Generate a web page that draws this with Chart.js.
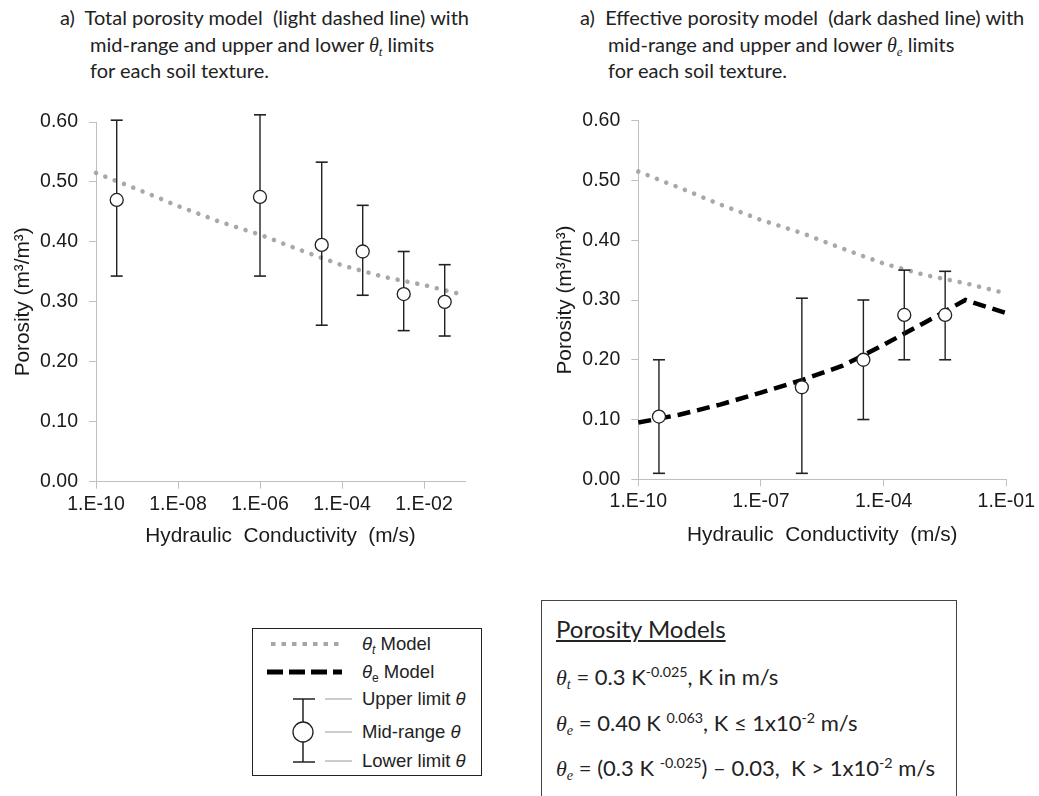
<!DOCTYPE html>
<html>
<head>
<meta charset="utf-8">
<script src="https://cdn.jsdelivr.net/npm/chart.js@4.4.1/dist/chart.umd.min.js"></script>
<style>
  html, body { margin:0; padding:0; background:#fff; width:1039px; height:796px; overflow:hidden; }
  .abs { position:absolute; }
  .ttl { font-family:'Lato', 'Open Sans', sans-serif; font-size:20px; color:#222; line-height:26.5px; white-space:pre; }
  .th { font-family:'Liberation Serif', 'DejaVu Serif', serif; font-style:italic; }
  .ttl sub, .eq sub { font-size:0.65em; vertical-align:-0.3em; line-height:0; }
  .eq sup { font-size:0.65em; vertical-align:0.55em; line-height:0; }
  .lg { font-family:'Liberation Sans', Arial, sans-serif; font-size:18.5px; color:#222; line-height:20px; white-space:pre; }
  .lg sub { font-size:0.65em; vertical-align:-0.3em; line-height:0; }
  .eq { font-family:'Lato', 'Open Sans', sans-serif; font-size:22px; color:#222; white-space:pre; line-height:24px; }
</style>
</head>
<body>
<div class="abs ttl" style="left:60px; top:4px;">a)  Total porosity model  (light dashed line) with</div>
<div class="abs ttl" style="left:90px; top:30.5px;">mid-range and upper and lower <span class="th">θ<sub>t</sub></span> limits</div>
<div class="abs ttl" style="left:90px; top:57px;">for each soil texture.</div>

<div class="abs ttl" style="left:580px; top:4px;">a)  Effective porosity model  (dark dashed line) with</div>
<div class="abs ttl" style="left:608px; top:30.5px;">mid-range and upper and lower <span class="th">θ<sub>e</sub></span> limits</div>
<div class="abs ttl" style="left:608px; top:57px;">for each soil texture.</div>

<div class="abs" style="left:0px; top:90px; width:520px; height:480px;"><canvas id="c1" width="520" height="480"></canvas></div>
<div class="abs" style="left:520px; top:90px; width:519px; height:480px;"><canvas id="c2" width="519" height="480"></canvas></div>

<!-- legend -->
<div class="abs" style="left:252px; top:628px; width:230px; height:148px; border:1px solid #222; box-sizing:border-box;">
  <svg class="abs" style="left:0; top:0;" width="230" height="148">
    <line x1="18" y1="15" x2="90" y2="15" stroke="#a6a6a6" stroke-width="4" stroke-dasharray="4.5 6"/>
    <line x1="14" y1="43" x2="89" y2="43" stroke="#000" stroke-width="5" stroke-dasharray="16 6"/>
    <line x1="50" y1="70" x2="50" y2="133" stroke="#222" stroke-width="1.5"/>
    <line x1="40" y1="70" x2="62" y2="70" stroke="#222" stroke-width="1.5"/>
    <line x1="40" y1="133" x2="62" y2="133" stroke="#222" stroke-width="1.5"/>
    <circle cx="50" cy="103" r="10" fill="#fff" stroke="#222" stroke-width="1.3"/>
    <line x1="72" y1="70" x2="99" y2="70" stroke="#999" stroke-width="1"/>
    <line x1="72" y1="103" x2="99" y2="103" stroke="#999" stroke-width="1"/>
    <line x1="72" y1="132" x2="99" y2="132" stroke="#999" stroke-width="1"/>
  </svg>
  <div class="abs lg" style="left:109px; top:5px;"><i>θ</i><sub><i>t</i></sub> Model</div>
  <div class="abs lg" style="left:109px; top:33px;"><i>θ</i><sub>e</sub> Model</div>
  <div class="abs lg" style="left:109px; top:60px;">Upper limit <i>θ</i></div>
  <div class="abs lg" style="left:109px; top:93px;">Mid-range <i>θ</i></div>
  <div class="abs lg" style="left:109px; top:122px;">Lower limit <i>θ</i></div>
</div>

<!-- equations -->
<div class="abs" style="left:541px; top:600px; width:416px; height:220px; border:1.5px solid #444; box-sizing:border-box;">
  <div class="abs eq" style="left:14px; top:16px; font-size:24px; text-decoration:underline;">Porosity Models</div>
  <div class="abs eq" style="left:14px; top:64px;"><span class="th">θ<sub>t</sub></span> = 0.3 K<sup>-0.025</sup>, K in m/s</div>
  <div class="abs eq" style="left:14px; top:110px;"><span class="th">θ<sub>e</sub></span> = 0.40 K <sup>0.063</sup>, K ≤ 1x10<sup>-2</sup> m/s</div>
  <div class="abs eq" style="left:14px; top:155px;"><span class="th">θ<sub>e</sub></span> = (0.3 K <sup>-0.025</sup>) – 0.03,  K &gt; 1x10<sup>-2</sup> m/s</div>
</div>

<script>
// ---- data ----
const X_TICKS_LEFT = [1e-10, 1e-8, 1e-6, 1e-4, 1e-2];
const X_TICK_LABELS_LEFT = ['1.E-10', '1.E-08', '1.E-06', '1.E-04', '1.E-02'];
const X_TICKS_RIGHT = [1e-10, 1e-7, 1e-4, 1e-1];
const X_TICK_LABELS_RIGHT = ['1.E-10', '1.E-07', '1.E-04', '1.E-01'];
const Y_TICKS = [0, 0.1, 0.2, 0.3, 0.4, 0.5, 0.6];
const Y_TICK_LABELS = ['0.00', '0.10', '0.20', '0.30', '0.40', '0.50', '0.60'];

// left panel: total porosity
const leftK     = [3.2e-10, 1e-6, 3.2e-5, 3.2e-4, 3.2e-3, 3.2e-2];
const leftMid   = [0.470, 0.475, 0.395, 0.384, 0.313, 0.300];
const leftUpper = [0.603, 0.612, 0.533, 0.461, 0.384, 0.362];
const leftLower = [0.343, 0.343, 0.261, 0.311, 0.252, 0.243];

// right panel: effective porosity
const rightK     = [3.2e-10, 1e-6, 3.2e-5, 3.2e-4, 3.2e-3];
const rightMid   = [0.105, 0.154, 0.200, 0.275, 0.275];
const rightUpper = [0.200, 0.303, 0.300, 0.350, 0.348];
const rightLower = [0.010, 0.010, 0.100, 0.200, 0.200];

// model curves
const modelK = [1e-10, 1e-9, 1e-8, 1e-7, 1e-6, 1e-5, 1e-4, 1e-3, 1e-2, 1e-1];
const thetaT = [0.515, 0.488, 0.460, 0.434, 0.412, 0.386, 0.361, 0.342, 0.328, 0.311];
const thetaE = [0.095, 0.108, 0.125, 0.145, 0.166, 0.190, 0.225, 0.262, 0.300, 0.278];

// ---- helpers ----
const FONT = 'Liberation Sans';
const pts = (xs, ys) => xs.map((x, i) => ({ x: x, y: ys[i] }));
function whiskers(xs, lo, hi) {
  const out = [];
  xs.forEach((x, i) => { out.push({ x: x, y: lo[i] }, { x: x, y: hi[i] }, { x: x, y: null }); });
  return out;
}

function makeChart(id, cfg) {
  const datasets = [
    { label: 'mid', data: pts(cfg.K, cfg.mid), showLine: false, pointStyle: 'circle', pointRadius: 6.5,
      pointBackgroundColor: '#fff', pointBorderColor: '#222', pointBorderWidth: 1.3, order: 0, clip: false },
    { label: 'limits', data: whiskers(cfg.K, cfg.lo, cfg.hi), showLine: true, spanGaps: false,
      borderColor: '#222', borderWidth: 1.4, pointStyle: 'line', pointRadius: 6,
      pointBorderColor: '#222', pointBorderWidth: 1.6, order: 1, clip: false }
  ];
  if (cfg.showE) {
    datasets.push({ label: 'thetaE', data: pts(modelK, thetaE), showLine: true, borderColor: '#000',
      borderWidth: 4.5, borderDash: [13, 7], pointRadius: 0, tension: 0, order: 2, clip: false });
  }
  datasets.push({ label: 'thetaT', data: pts(modelK, thetaT), showLine: true, borderColor: '#a8a8a8',
    borderWidth: 4.6, borderDash: [0.01, 10], borderCapStyle: 'round', pointRadius: 0, tension: 0, order: 3, clip: false });

  return new Chart(document.getElementById(id), {
    type: 'scatter',
    data: { datasets },
    options: {
      responsive: false, animation: false,
      layout: { padding: cfg.padding },
      plugins: { legend: { display: false }, tooltip: { enabled: false } },
      scales: {
        x: {
          type: 'logarithmic', min: 1e-10, max: 1e-1,
          afterBuildTicks: s => { s.ticks = cfg.xTicks.map(v => ({ value: v })); },
          afterFit: s => { s.height = cfg.xHeight; },
          ticks: { autoSkip: false, maxRotation: 0, padding: 4, color: '#1a1a1a',
                   font: { family: FONT, size: 19.5 }, callback: (v, i) => cfg.xLabels[i] },
          grid: { drawOnChartArea: false, drawTicks: true, tickLength: 7, color: '#bfbfbf' },
          border: { color: '#bfbfbf', width: 1 },
          title: { display: true, text: 'Hydraulic  Conductivity  (m/s)', color: '#1a1a1a',
                   font: { family: FONT, size: 20.8 }, padding: { top: 4, bottom: 0 } }
        },
        y: {
          min: 0, max: 0.6,
          afterBuildTicks: s => { s.ticks = Y_TICKS.map(v => ({ value: v })); },
          afterFit: s => { s.width = cfg.yWidth; },
          ticks: { padding: 11, color: '#1a1a1a', font: { family: FONT, size: 19.5 },
                   callback: (v, i) => Y_TICK_LABELS[i] },
          grid: { drawOnChartArea: false, drawTicks: true, tickLength: 7, color: '#bfbfbf' },
          border: { color: '#bfbfbf', width: 1 },
          title: { display: true, text: 'Porosity (m³/m³)', color: '#1a1a1a',
                   font: { family: FONT, size: 20.8 }, padding: { top: cfg.yTitlePad, bottom: 0 } }
        }
      }
    }
  });
}

makeChart('c1', {
  K: leftK, mid: leftMid, lo: leftLower, hi: leftUpper, showE: false,
  xTicks: X_TICKS_LEFT, xLabels: X_TICK_LABELS_LEFT,
  padding: { left: 0, right: 55, top: 32, bottom: 21 }, xHeight: 67.3, yWidth: 96, yTitlePad: 11
});
makeChart('c2', {
  K: rightK, mid: rightMid, lo: rightLower, hi: rightUpper, showE: true,
  xTicks: X_TICKS_RIGHT, xLabels: X_TICK_LABELS_RIGHT,
  padding: { left: 0, right: 31.7, top: 30.7, bottom: 22.2 }, xHeight: 68.5, yWidth: 118.3, yTitlePad: 33
});
</script>
</body>
</html>
